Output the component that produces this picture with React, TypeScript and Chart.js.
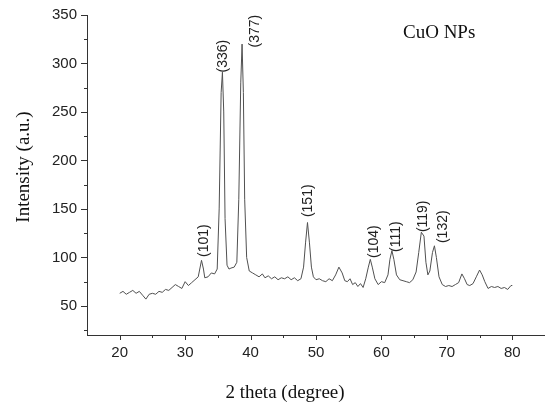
import React, { useEffect, useRef } from "react";
import { Chart, registerables } from "chart.js";

Chart.register(...registerables);

const twoTheta: number[] = [
  20.0, 20.5, 21.0, 21.5, 22.0, 22.5, 23.0, 23.5, 24.0, 24.5, 25.0, 25.5, 26.0, 26.5, 27.0, 27.5,
  28.0, 28.5, 29.0, 29.5, 30.0, 30.5, 31.0, 31.5, 32.0, 32.5, 32.8, 33.0, 33.5, 34.0, 34.5, 34.9,
  35.2, 35.5, 35.7, 35.9, 36.1, 36.4, 36.7, 37.0, 37.5, 37.9, 38.2, 38.5, 38.7, 38.9, 39.1, 39.4,
  39.8, 40.3, 40.8, 41.3, 41.8, 42.2, 42.7, 43.2, 43.7, 44.2, 44.7, 45.2, 45.7, 46.2, 46.7, 47.2,
  47.7, 48.1, 48.4, 48.7, 49.0, 49.3, 49.6, 50.0, 50.5, 51.0, 51.5, 52.0, 52.5, 53.0, 53.5, 54.0,
  54.4, 54.8, 55.2, 55.6, 56.0, 56.4, 56.8, 57.2, 57.6, 58.0, 58.3, 58.6, 59.0, 59.5, 60.0, 60.5,
  61.0, 61.3, 61.6, 61.9, 62.3, 62.8, 63.3, 63.8, 64.3, 64.8, 65.3, 65.7, 66.1, 66.5, 66.8, 67.1,
  67.4, 67.8, 68.1, 68.4, 68.8, 69.3, 69.8, 70.3, 70.8, 71.3, 71.8, 72.3, 72.7, 73.1, 73.5, 74.0,
  74.5, 75.0, 75.4, 75.8, 76.3, 76.8, 77.3, 77.8, 78.3, 78.8, 79.3, 79.8, 80.0,
];

const intensity: number[] = [
  63, 65, 62, 64, 66, 63, 65, 61, 57, 62, 63, 62, 65, 64, 67, 66,
  69, 72, 70, 68, 75, 71, 74, 77, 80, 97, 88, 79, 80, 84, 83, 88,
  150, 270, 291, 250, 140, 92, 88, 89, 90, 95, 160, 280, 320, 270, 160, 100,
  86, 84, 82, 80, 83, 79, 81, 78, 80, 77, 79, 78, 80, 77, 79, 76,
  78, 90, 115, 136, 115, 90, 80, 77, 78, 76, 75, 78, 76, 82, 90, 84,
  76, 75, 78, 72, 74, 70, 73, 69, 78, 90, 98, 90, 78, 72, 75, 74,
  82, 98, 107, 98, 82, 77, 76, 75, 74, 77, 85, 105, 126, 122, 95, 82,
  86, 105, 112, 100, 80, 72, 70, 71, 70, 72, 74, 83, 78, 72, 71, 73,
  80, 87, 82, 75, 68, 70, 69, 70, 68, 69, 67, 71, 71,
];

const peakLabels: string[] = ["(101)", "(336)", "(377)", "(151)", "(104)", "(111)", "(119)", "(132)"];
const peakLabelX: number[] = [32.86, 35.77, 40.67, 48.79, 58.9, 62.27, 66.4, 69.46];
const peakLabelY: number[] = [100.4, 290.7, 316.5, 141.6, 99.4, 105.6, 126.1, 114.8];

const xTicks: number[] = [20, 25, 30, 35, 40, 45, 50, 55, 60, 65, 70, 75, 80];
const yTicks: number[] = [25, 50, 75, 100, 125, 150, 175, 200, 225, 250, 275, 300, 325, 350];

const xTitle = "2 theta (degree)";
const yTitle = "Intensity (a.u.)";
const sampleName = "CuO NPs";

const AXIS_COLOR = "#333333";
const SERIF = "'Liberation Serif', 'Times New Roman', serif";
const SANS = "'Liberation Sans', Arial, sans-serif";

const decorPlugin = {
  id: "decor",
  afterDraw(chart: any) {
    const ctx = chart.ctx as CanvasRenderingContext2D;
    const xs = chart.scales.x;
    const ys = chart.scales.y;
    const area = chart.chartArea;
    ctx.save();
    ctx.strokeStyle = AXIS_COLOR;
    ctx.lineWidth = 1;
    ctx.beginPath();
    xs.ticks.forEach((t: any) => {
      const px = Math.round(xs.getPixelForValue(t.value)) + 0.5;
      const len = t.value % 10 === 0 ? 5 : 3;
      ctx.moveTo(px, area.bottom);
      ctx.lineTo(px, area.bottom + len);
    });
    ys.ticks.forEach((t: any) => {
      const py = Math.round(ys.getPixelForValue(t.value)) + 0.5;
      const len = t.value % 50 === 0 ? 6 : 3;
      ctx.moveTo(area.left, py);
      ctx.lineTo(area.left - len, py);
    });
    ctx.stroke();

    ctx.fillStyle = "#222222";
    ctx.font = `14px ${SANS}`;
    ctx.textAlign = "left";
    ctx.textBaseline = "middle";
    peakLabels.forEach((lab, i) => {
      const px = xs.getPixelForValue(peakLabelX[i]);
      const py = ys.getPixelForValue(peakLabelY[i]);
      ctx.save();
      ctx.translate(px, py);
      ctx.rotate(-Math.PI / 2);
      ctx.fillText(lab, 0, 0);
      ctx.restore();
    });

    ctx.fillStyle = "#111111";
    ctx.font = `19px ${SERIF}`;
    ctx.textAlign = "center";
    ctx.textBaseline = "alphabetic";
    ctx.fillText(xTitle, 285, 398);

    ctx.save();
    ctx.translate(24, 167);
    ctx.rotate(-Math.PI / 2);
    ctx.textBaseline = "middle";
    ctx.fillText(yTitle, 0, 0);
    ctx.restore();

    ctx.textAlign = "left";
    ctx.textBaseline = "alphabetic";
    ctx.fillText(sampleName, 403, 38);
    ctx.restore();
  },
};

export default function App() {
  const canvasRef = useRef<HTMLCanvasElement | null>(null);

  useEffect(() => {
    document.body.style.margin = "0";
    const canvas = canvasRef.current;
    if (!canvas) return;
    const points = twoTheta.map((x, i) => ({ x, y: intensity[i] }));
    const chart = new Chart(canvas, {
      type: "line",
      data: {
        datasets: [
          {
            data: points,
            borderColor: "#505050",
            borderWidth: 1,
            pointRadius: 0,
            tension: 0,
            fill: false,
          },
        ],
      },
      options: {
        animation: false,
        responsive: false,
        maintainAspectRatio: false,
        layout: { padding: { top: 15, right: 0, bottom: 0, left: 0 } },
        plugins: {
          legend: { display: false },
          tooltip: { enabled: false },
          title: { display: false },
        },
        scales: {
          x: {
            type: "linear",
            min: 15,
            max: 85,
            afterBuildTicks: (scale: any) => {
              scale.ticks = xTicks.map((v) => ({ value: v }));
            },
            afterFit: (scale: any) => {
              scale.height = 70;
              scale.paddingLeft = 0;
              scale.paddingRight = 0;
            },
            grid: { display: false, drawTicks: false },
            border: { display: true, color: AXIS_COLOR, width: 1 },
            ticks: {
              padding: 9,
              maxRotation: 0,
              autoSkip: false,
              color: "#222222",
              font: { family: SANS, size: 15 },
              callback: (v: any) => (Number(v) % 10 === 0 ? String(v) : ""),
            },
          },
          y: {
            type: "linear",
            min: 20,
            max: 350,
            afterBuildTicks: (scale: any) => {
              scale.ticks = yTicks.map((v) => ({ value: v }));
            },
            afterFit: (scale: any) => {
              scale.width = 87;
              scale.paddingTop = 0;
              scale.paddingBottom = 0;
            },
            grid: { display: false, drawTicks: false },
            border: { display: true, color: AXIS_COLOR, width: 1 },
            ticks: {
              padding: 10,
              autoSkip: false,
              color: "#222222",
              font: { family: SANS, size: 15 },
              callback: (v: any) => (Number(v) % 50 === 0 ? String(v) : ""),
            },
          },
        },
      },
      plugins: [decorPlugin],
    });
    return () => chart.destroy();
  }, []);

  return (
    <div style={{ width: 545, height: 405 }}>
      <canvas ref={canvasRef} width={545} height={405} style={{ display: "block" }} />
    </div>
  );
}
